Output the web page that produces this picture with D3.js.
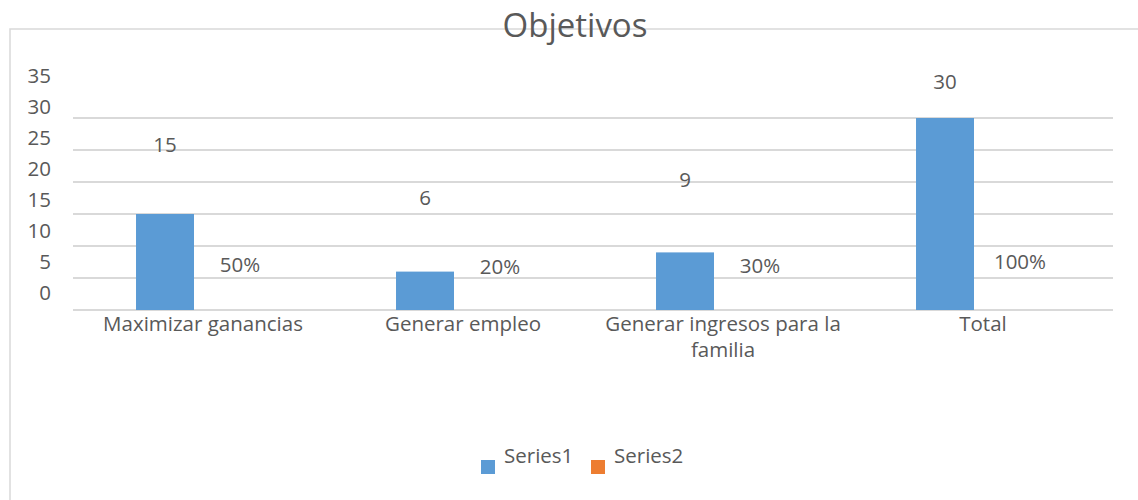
<!DOCTYPE html>
<html>
<head>
<meta charset="utf-8">
<script src="https://cdn.jsdelivr.net/npm/d3@7"></script>
<style>
  body { margin: 0; background: #fff; }
  text { font-family: "Open Sans", sans-serif; fill: #595959; }
</style>
</head>
<body>
<div id="chart"></div>
<script>
const categories = ["Maximizar ganancias", "Generar empleo", "Generar ingresos para la|familia", "Total"];
const series1 = [15, 6, 9, 30];
const series2 = [0.5, 0.2, 0.3, 1.0];
const seriesNames = ["Series1", "Series2"];
const yTicks = [0, 5, 10, 15, 20, 25, 30, 35];

const W = 1138, H = 500;
const colors = {Series1: "#5b9bd5", Series2: "#ed7d31"};
const fs = "20.5px";

const svg = d3.select("#chart").append("svg")
  .attr("width", W)
  .attr("height", H);

/* chart frame, runs off the right and bottom edges */
svg.append("rect")
  .attr("x", 10).attr("y", 29)
  .attr("width", 1200).attr("height", 520)
  .attr("fill", "none")
  .attr("stroke", "#d9d9d9")
  .attr("stroke-width", 1.5);

const x0 = d3.scaleBand()
  .domain(categories)
  .range([73, 1113])
  .paddingInner(0.554)
  .paddingOuter(0.277);

const x1 = d3.scaleBand()
  .domain(seriesNames)
  .range([0, x0.bandwidth()]);

const barShift = -9; /* bars sit a bit left of the category centre */

const y = d3.scaleLinear()
  .domain([0, 35])
  .range([310, 86]);

/* tick labels sit a little off the gridlines in the original */
const yLabel = d3.scaleLinear()
  .domain([0, 35])
  .range([300, 83]);

/* gridlines (no line drawn at 35) */
svg.append("g")
  .selectAll("line")
  .data(yTicks.filter(d => d < 35))
  .join("line")
    .attr("x1", 73).attr("x2", 1113)
    .attr("y1", d => y(d)).attr("y2", d => y(d))
    .attr("stroke", "#d9d9d9")
    .attr("stroke-width", 2);

svg.append("g")
  .selectAll("text")
  .data(yTicks)
  .join("text")
    .attr("x", 51)
    .attr("y", d => yLabel(d))
    .attr("text-anchor", "end")
    .style("font-size", fs)
    .text(d => d);

/* bars */
const groups = svg.append("g")
  .selectAll("g")
  .data(categories)
  .join("g")
    .attr("transform", d => `translate(${x0(d)},0)`);

groups.append("rect")
  .attr("x", x1("Series1") + barShift)
  .attr("width", x1.bandwidth())
  .attr("y", (d, i) => y(series1[i]))
  .attr("height", (d, i) => y(0) - y(series1[i]))
  .attr("fill", colors.Series1);

/* value labels for Series1, Total one is clamped under the title */
const valLabelY = d3.scaleLinear().domain([6, 15]).range([205, 152]);
groups.append("text")
  .attr("x", x1("Series1") + x1.bandwidth() / 2 + barShift)
  .attr("y", (d, i) => Math.max(89, valLabelY(series1[i])))
  .attr("text-anchor", "middle")
  .style("font-size", fs)
  .text((d, i) => series1[i]);

/* Series2 percentages */
groups.append("text")
  .attr("x", x1("Series2") + x1.bandwidth() / 2 + barShift + 17)
  .attr("y", (d, i) => y(series2[i]) - 35)
  .attr("text-anchor", "middle")
  .style("font-size", fs)
  .text((d, i) => d3.format(".0%")(series2[i]));

/* category labels */
groups.append("text")
  .attr("x", x0.bandwidth() / 2)
  .attr("y", 331)
  .attr("text-anchor", "middle")
  .style("font-size", fs)
  .selectAll("tspan")
  .data(d => d.split("|"))
  .join("tspan")
    .attr("x", x0.bandwidth() / 2)
    .attr("dy", (d, i) => i ? 26 : 0)
    .text(d => d);

/* title */
svg.append("text")
  .attr("x", 575)
  .attr("y", 37)
  .attr("text-anchor", "middle")
  .style("font-size", "33px")
  .text("Objetivos");

/* legend */
const legend = svg.append("g")
  .selectAll("g")
  .data(seriesNames)
  .join("g")
    .attr("transform", (d, i) => `translate(${481 + i * 110},0)`);

legend.append("rect")
  .attr("y", 460)
  .attr("width", 14).attr("height", 14)
  .attr("fill", d => colors[d]);

legend.append("text")
  .attr("x", 23)
  .attr("y", 463)
  .style("font-size", fs)
  .text(d => d);
</script>
</body>
</html>
